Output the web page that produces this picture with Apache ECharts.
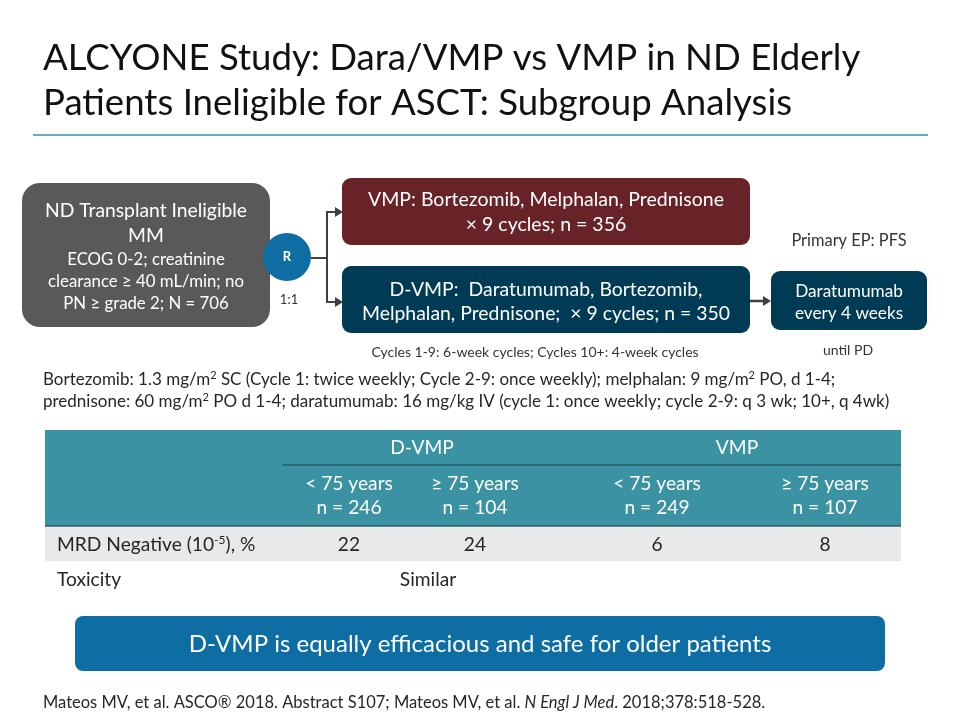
<!DOCTYPE html>
<html><head><meta charset="utf-8">
<script src="https://cdn.jsdelivr.net/npm/echarts/dist/echarts.min.js"></script>
<style>html,body{margin:0;padding:0;background:#fff}#c{width:960px;height:720px}</style>
</head><body><div id="c"></div>
<script>
// ---- content ----
const titleLines = ['ALCYONE Study: Dara/VMP vs VMP in ND Elderly', 'Patients Ineligible for ASCT: Subgroup Analysis'];
const populationHead = ['ND Transplant Ineligible', 'MM'];
const populationBody = ['ECOG 0-2; creatinine', 'clearance \u2265 40 mL/min; no', 'PN \u2265 grade 2; N = 706'];
const randomLabel = 'R';
const ratioLabel = '1:1';
const vmpArm = ['VMP: Bortezomib, Melphalan, Prednisone', '\u00d7 9 cycles; n = 356'];
const dvmpArm = ['D-VMP:  Daratumumab, Bortezomib,', 'Melphalan, Prednisone;  \u00d7 9 cycles; n = 350'];
const maintenance = ['Daratumumab', 'every 4 weeks'];
const endpointLabel = 'Primary EP: PFS';
const untilLabel = 'until PD';
const cyclesNote = 'Cycles 1-9: 6-week cycles; Cycles 10+: 4-week cycles';
const dosingLines = [
  'Bortezomib: 1.3 mg/m{sup|2} SC (Cycle 1: twice weekly; Cycle 2-9: once weekly); melphalan: 9 mg/m{sup|2} PO, d 1-4;',
  'prednisone: 60 mg/m{sup|2} PO d 1-4; daratumumab: 16 mg/kg IV (cycle 1: once weekly; cycle 2-9: q 3 wk; 10+, q 4wk)'
];
const armGroups = ['D-VMP', 'VMP'];
const ageGroups = ['< 75 years', '\u2265 75 years', '< 75 years', '\u2265 75 years'];
const groupN = [246, 104, 249, 107];
const rowLabels = ['MRD Negative (10{sup|-5}), %', 'Toxicity'];
const mrdNegative = [22, 24, 6, 8];
const toxicity = 'Similar';
const conclusion = 'D-VMP is equally efficacious and safe for older patients';
const reference = 'Mateos MV, et al. ASCO\u00ae 2018. Abstract S107; Mateos MV, et al. {i|N Engl J Med}. 2018;378:518-528.';

// ---- drawing ----
const FF = 'Lato, "Open Sans", sans-serif';
const DARK = '#262626';
const els = [];
function txt(x, y, text, size, color, align, extra) {
  els.push({type: 'text', x: x, y: y, z: 10, style: Object.assign({
    text: text, fontSize: size, fontFamily: FF, fill: color || DARK,
    align: align || 'left', verticalAlign: 'middle'
  }, extra || {})});
}
function rect(x, y, w, h, r, fill, z) {
  els.push({type: 'rect', z: z || 1, shape: {x: x, y: y, width: w, height: h, r: r}, style: {fill: fill}});
}
function line(points, color, w) {
  els.push({type: 'polyline', z: 2, shape: {points: points}, style: {stroke: color, lineWidth: w, fill: null}});
}
function arrowHead(x, y, color) {
  els.push({type: 'polygon', z: 3, shape: {points: [[x, y], [x - 8, y - 5], [x - 8, y + 5]]}, style: {fill: color}});
}
function supRich(fs, lh, color) {
  return {sup: {fontSize: fs, fontFamily: FF, fill: color || DARK, verticalAlign: 'top', lineHeight: lh}};
}

// title
txt(43, 58, titleLines[0], 36.6, '#111');
txt(43, 103, titleLines[1], 36.6, '#111');
line([[33, 135], [928, 135]], '#3a8fa0', 1.5);

// population box
rect(22, 183, 248, 144, 18, '#595959');
txt(146, 211, populationHead[0], 19.3, '#fff', 'center');
txt(146, 236, populationHead[1], 19.3, '#fff', 'center');
populationBody.forEach((t, i) => txt(146, 260 + i * 22, t, 16.8, '#fff', 'center'));

// randomisation
els.push({type: 'circle', z: 4, shape: {cx: 287, cy: 257, r: 24}, style: {fill: '#0e6ea3'}});
txt(287, 257, randomLabel, 13, '#fff', 'center', {fontWeight: 'bold'});
txt(289, 300, ratioLabel, 13, '#333', 'center');
const CONN = '#404040';
line([[311, 258], [327, 258]], CONN, 2);
line([[341, 212], [327, 212], [327, 302], [341, 302]], CONN, 2);
arrowHead(343, 212, CONN);
arrowHead(343, 302, CONN);

// arms
rect(342, 178, 408, 67, 9, '#672327');
txt(546, 200, vmpArm[0], 19.5, '#fff', 'center');
txt(546, 225, vmpArm[1], 19.5, '#fff', 'center');
rect(342, 266, 408, 67, 9, '#003b56');
txt(546, 290, dvmpArm[0], 19.4, '#fff', 'center');
txt(546, 314, dvmpArm[1], 19.4, '#fff', 'center');
line([[750, 301], [764, 301]], CONN, 2.5);
arrowHead(771, 301, CONN);
rect(771, 271, 156, 59, 9, '#003b56');
txt(849, 291, maintenance[0], 17.2, '#fff', 'center');
txt(849, 313, maintenance[1], 17.2, '#fff', 'center');
txt(849, 241, endpointLabel, 16.4, '#333', 'center');
txt(848, 350, untilLabel, 14, '#333', 'center');
txt(535, 352, cyclesNote, 14, '#333', 'center');

// dosing
dosingLines.forEach((t, i) => txt(43, 380 + i * 22, t, 17, DARK, 'left', {rich: supRich(11, 20)}));

// table
const TL = 45, TR = 901;
rect(TL, 430, TR - TL, 96, 0, '#3a92a2');
line([[282, 465], [TR, 465]], '#2a5a66', 1.5);
line([[TL, 526], [TR, 526]], '#2a5a66', 1.5);
rect(TL, 527, TR - TL, 34, 0, '#e9e9e9');
const groupX = [422, 737];
armGroups.forEach((g, i) => txt(groupX[i], 448, g, 19.2, '#fff', 'center'));
const colX = [349, 475, 657, 825];
ageGroups.forEach((g, i) => {
  txt(colX[i], 484, g, 19.2, '#fff', 'center');
  txt(colX[i], 508, 'n = ' + groupN[i], 19.2, '#fff', 'center');
  txt(colX[i], 545, String(mrdNegative[i]), 19.2, DARK, 'center');
});
txt(57, 545, rowLabels[0], 19.2, DARK, 'left', {rich: supRich(12, 22)});
txt(57, 580, rowLabels[1], 19.2, DARK, 'left');
txt(428, 580, toxicity, 19.2, DARK, 'center');

// conclusion
rect(75, 616, 810, 55, 8, '#0e6ea3');
txt(480, 644, conclusion, 24, '#fff', 'center');

// reference
txt(43, 703, reference, 16.5, DARK, 'left', {rich: {i: {fontStyle: 'italic', fontSize: 16.5, fontFamily: FF, fill: DARK}}});

const chart = echarts.init(document.getElementById('c'), null, {renderer: 'canvas'});
chart.setOption({backgroundColor: '#fff', animation: false, graphic: {elements: els}});
</script>
</body></html>
